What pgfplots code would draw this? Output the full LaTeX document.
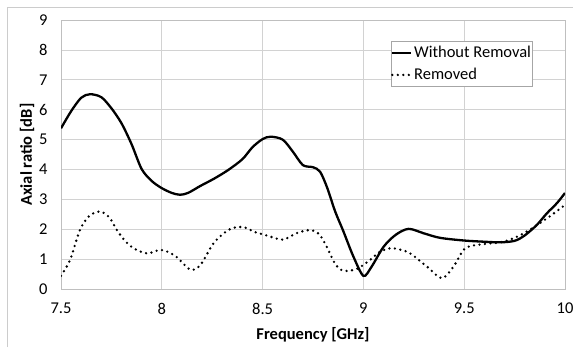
\documentclass[border=0pt]{standalone}
\usepackage{fontspec}
\setmainfont{Carlito}
\usepackage{pgfplots}
\pgfplotsset{compat=1.18}
\begin{document}
\fontsize{16bp}{19bp}\selectfont
\begin{tikzpicture}[x=1bp,y=1bp]
\path[use as bounding box] (0,0) rectangle (573,347);
\draw[gray!40, line width=0.8bp] (7,0) -- (7,340) -- (573,340);
\begin{axis}[
  at={(61bp,57.7bp)}, anchor=south west,
  scale only axis, width=504bp, height=269.3bp,
  xmin=7.5, xmax=10, ymin=0, ymax=9,
  xtick={7.5,8,8.5,9,9.5,10}, ytick={0,1,...,9},
  xticklabels={7.5,8,8.5,9,9.5,10},
  major tick length=0pt,
  grid=major, grid style={gray!35, line width=0.7bp},
  axis line style={gray!50, line width=0.7bp},
  /pgf/number format/assume math mode=true,
  tick label style={font=\fontsize{16.5bp}{19bp}\selectfont},
  xticklabel style={yshift=-8bp},
  yticklabel style={xshift=-8bp},
  xlabel={\bfseries Frequency [GHz]},
  ylabel={\bfseries Axial ratio [dB]},
  label style={font=\fontsize{16.5bp}{19bp}\selectfont},
  xlabel style={yshift=-2bp},
  ylabel style={yshift=-6bp},
  legend style={at={(0.654,0.923)}, anchor=north west, draw=gray!70, line width=0.8bp,
    font=\fontsize{16.5bp}{19bp}\selectfont, inner xsep=0pt, inner ysep=3.5bp,
    row sep=5bp, nodes={inner sep=1.5bp}},
  legend cell align=left,
  legend image code/.code={\draw[#1] (0bp,0bp) -- (19bp,0bp);},
]
\addplot[black, line width=2.3bp, smooth, tension=0.5] coordinates {
(7.5,5.38)(7.55,5.95)(7.6,6.4)(7.644,6.52)(7.7,6.42)(7.75,6.05)(7.8,5.55)(7.85,4.85)
(7.9,4.02)(7.95,3.62)(8.0,3.38)(8.05,3.22)(8.09,3.16)(8.13,3.22)(8.19,3.45)(8.26,3.7)
(8.33,3.99)(8.4,4.35)(8.45,4.75)(8.5,5.02)(8.54,5.1)(8.6,5.0)(8.65,4.6)(8.7,4.15)
(8.75,4.08)(8.785,3.93)(8.82,3.4)(8.86,2.6)(8.9,1.95)(8.95,1.1)(9.0,0.45)(9.04,0.75)
(9.1,1.42)(9.16,1.82)(9.224,2.02)(9.3,1.87)(9.38,1.72)(9.5,1.63)(9.6,1.59)(9.68,1.57)
(9.75,1.62)(9.8,1.8)(9.86,2.15)(9.91,2.54)(9.96,2.88)(10,3.22)};
\addlegendentry{Without Removal}
\addplot[black, line width=2.6bp, line cap=round, dash pattern=on 0bp off 5.5bp, smooth, tension=0.5] coordinates {
(7.5,0.45)(7.545,0.98)(7.594,1.98)(7.64,2.45)(7.694,2.6)(7.74,2.4)(7.777,1.98)(7.82,1.6)
(7.86,1.37)(7.926,1.2)(7.992,1.32)(8.03,1.25)(8.075,1.07)(8.141,0.66)(8.19,0.8)
(8.257,1.54)(8.323,1.95)(8.373,2.08)(8.42,2.05)(8.455,1.93)(8.52,1.8)(8.6,1.66)
(8.67,1.88)(8.735,1.98)(8.78,1.85)(8.818,1.42)(8.86,0.85)(8.9,0.62)(8.967,0.68)
(9.033,0.98)(9.08,1.25)(9.133,1.37)(9.18,1.33)(9.232,1.2)(9.315,0.76)(9.389,0.37)
(9.447,0.76)(9.505,1.37)(9.596,1.51)(9.696,1.59)(9.795,1.87)(9.91,2.37)(10,2.82)};
\addlegendentry{Removed}
\end{axis}
\end{tikzpicture}
\end{document}
